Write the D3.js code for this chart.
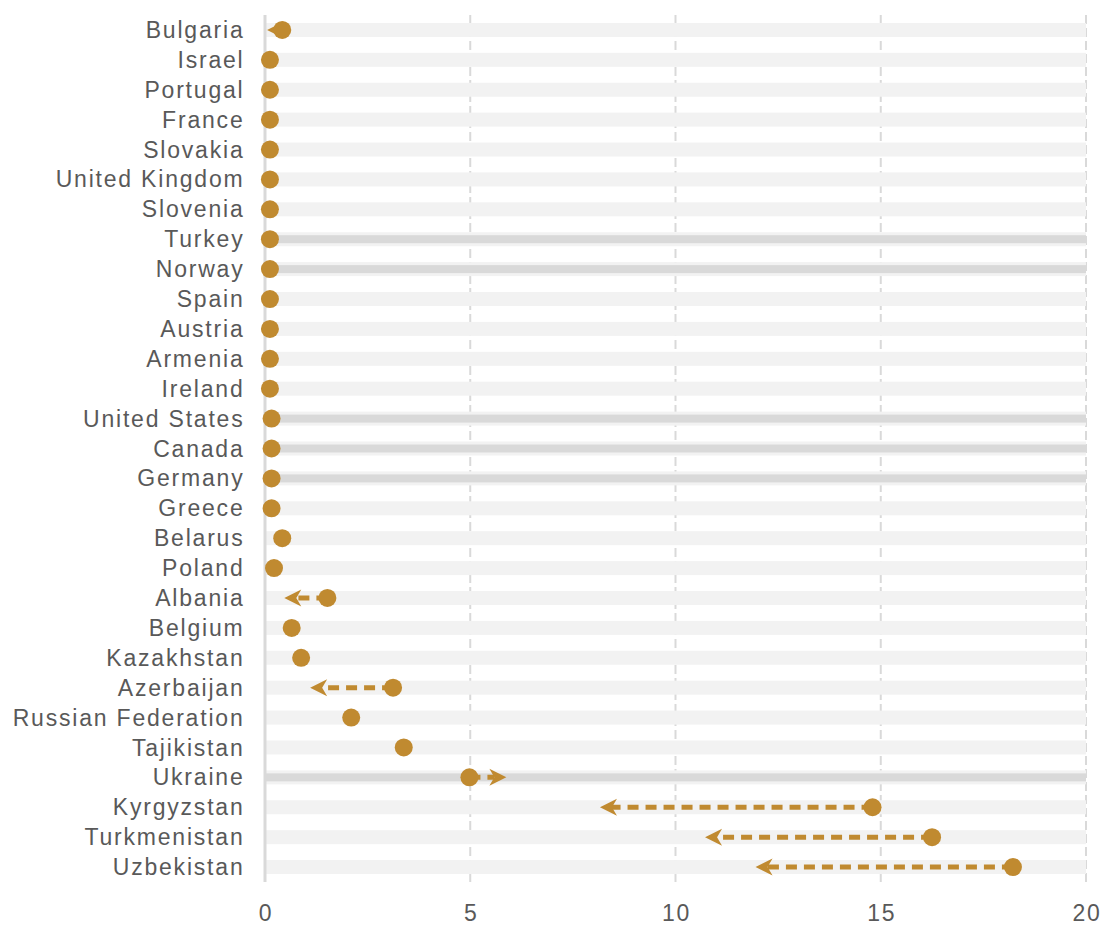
<!DOCTYPE html>
<html lang="en">
<head>
<meta charset="UTF-8">
<title>Dot arrows</title>
<script src="https://d3js.org/d3.v7.min.js"></script>
<style>
  body { margin: 0; background: #fff; }
  text { font-family: "Liberation Sans", Arial, sans-serif; fill: #595959; letter-spacing: 1.8px; }
</style>
</head>
<body>
<div id="chart"></div>
<script>
// countries top to bottom
var countries = ["Bulgaria","Israel","Portugal","France","Slovakia","United Kingdom","Slovenia",
  "Turkey","Norway","Spain","Austria","Armenia","Ireland","United States","Canada","Germany",
  "Greece","Belarus","Poland","Albania","Belgium","Kazakhstan","Azerbaijan","Russian Federation",
  "Tajikistan","Ukraine","Kyrgyzstan","Turkmenistan","Uzbekistan"];

// dot value
var startVals = [0.42,0.12,0.12,0.12,0.12,0.12,0.12,0.12,0.12,0.12,0.12,0.12,0.12,0.16,0.16,0.16,
  0.16,0.42,0.22,1.52,0.65,0.88,3.12,2.1,3.38,4.98,14.8,16.25,18.22];

// where the arrow points (null = no arrow)
var endVals = [0.05,null,null,null,null,null,null,null,null,null,null,null,null,null,null,null,
  null,null,null,0.47,null,null,1.1,null,null,5.88,8.16,10.72,11.95];

// rows with the darker stripe
var highlighted = ["Turkey","Norway","United States","Canada","Germany","Ukraine"];

var xTicks = [0, 5, 10, 15, 20];

var W = 1104, H = 933;
var margin = {top: 15, right: 18, bottom: 51, left: 265};
var color = "#C08A30";

var svg = d3.select("#chart").append("svg")
    .attr("width", W).attr("height", H);

var x = d3.scaleLinear().domain([0, 20]).range([margin.left, W - margin.right]);
var y = d3.scaleBand().domain(countries).range([margin.top, H - margin.bottom]);

// grid lines
svg.append("g").selectAll("line")
  .data(xTicks.slice(1))
  .join("line")
    .attr("x1", d => x(d)).attr("x2", d => x(d))
    .attr("y1", margin.top).attr("y2", H - margin.bottom)
    .attr("stroke", "#d9d9d9")
    .attr("stroke-width", 2)
    .attr("stroke-dasharray", "9,4");

// row bands
var rows = countries.map((c, i) => ({name: c, start: startVals[i], end: endVals[i]}));

svg.append("g").selectAll("rect")
  .data(rows)
  .join("rect")
    .attr("x", x(0))
    .attr("y", d => y(d.name) + y.bandwidth() / 2 - 7)
    .attr("width", x(20) - x(0))
    .attr("height", 14)
    .attr("fill", "#f2f2f2");

svg.append("g").selectAll("rect")
  .data(rows.filter(d => highlighted.includes(d.name)))
  .join("rect")
    .attr("x", x(0))
    .attr("y", d => y(d.name) + y.bandwidth() / 2 - 4)
    .attr("width", x(20) - x(0))
    .attr("height", 8)
    .attr("fill", "#d9d9d9");

// zero line
svg.append("line")
  .attr("x1", x(0)).attr("x2", x(0))
  .attr("y1", margin.top).attr("y2", H - margin.bottom)
  .attr("stroke", "#d9d9d9")
  .attr("stroke-width", 3);

// arrows
var arrows = rows.filter(d => d.end !== null);
var headLen = 17, headHalf = 8.5, notch = 12;

svg.append("g").selectAll("line")
  .data(arrows)
  .join("line")
    .attr("x1", d => x(d.start))
    .attr("x2", d => x(d.end) + Math.sign(d.start - d.end) * notch)
    .attr("y1", d => y(d.name) + y.bandwidth() / 2)
    .attr("y2", d => y(d.name) + y.bandwidth() / 2)
    .attr("stroke", color)
    .attr("stroke-width", 5)
    .attr("stroke-dasharray", "11,7");

svg.append("g").selectAll("path")
  .data(arrows)
  .join("path")
    .attr("fill", color)
    .attr("d", d => {
      var s = Math.sign(d.start - d.end);
      var tx = x(d.end), cy = y(d.name) + y.bandwidth() / 2;
      return "M" + tx + "," + cy +
        "L" + (tx + s * headLen) + "," + (cy - headHalf) +
        "L" + (tx + s * notch) + "," + cy +
        "L" + (tx + s * headLen) + "," + (cy + headHalf) + "Z";
    });

// dots
svg.append("g").selectAll("circle")
  .data(rows)
  .join("circle")
    .attr("cx", d => x(d.start))
    .attr("cy", d => y(d.name) + y.bandwidth() / 2)
    .attr("r", 9)
    .attr("fill", color);

// country labels
svg.append("g").selectAll("text")
  .data(countries)
  .join("text")
    .attr("x", margin.left - 20.5)
    .attr("y", d => y(d) + y.bandwidth() / 2)
    .attr("dy", "0.35em")
    .attr("text-anchor", "end")
    .style("font-size", "23px")
    .text(d => d);

// x tick labels
svg.append("g").selectAll("text")
  .data(xTicks)
  .join("text")
    .attr("x", d => x(d) + 1)
    .attr("y", 913)
    .attr("dy", "0.35em")
    .attr("text-anchor", "middle")
    .style("font-size", "23px")
    .text(d => d);
</script>
</body>
</html>
